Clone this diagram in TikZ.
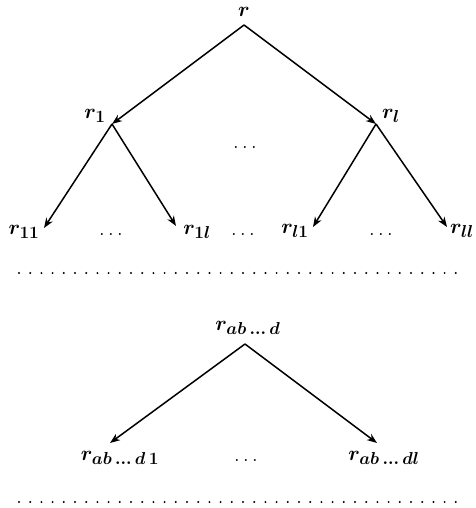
\documentclass[tikz,border=0pt]{standalone}
\usetikzlibrary{arrows.meta}
\DeclareMathSizes{22}{22}{17}{13}
\begin{document}
\begin{tikzpicture}[x=1pt,y=-1pt,
  lbl/.style={inner sep=0pt,font=\fontsize{22}{26}\selectfont\boldmath},
  gap/.style={inner sep=0pt,font=\fontsize{20}{24}\selectfont},
  edge/.style={line width=1.5pt,-{Stealth[length=10pt,width=7.5pt,inset=3pt]}},
  dotrow/.style={line width=2.2pt,line cap=round,dash pattern=on 0pt off 11.2pt}]
\useasboundingbox (0,0) rectangle (475,508);

% level 0
\node[lbl] (r) at (244,12) {$r$};
\coordinate (jr) at (244,25);

% level 1
\node[lbl] (r1) at (95,116) {$r_1$};
\coordinate (j1) at (112,124);
\node[gap] (dm1) at (245,147) {$\ldots$};
\node[lbl] (rl) at (391,116) {$r_l$};
\coordinate (jl) at (376,124);

% level 2
\node[lbl] (r11) at (24,232) {$r_{11}$};
\coordinate (t11) at (44,228);
\node[gap] (d1) at (111,234) {$\ldots$};
\node[lbl] (r1l) at (197,232) {$r_{1l}$};
\coordinate (t1l) at (176,226);
\node[gap] (d2) at (243,234) {$\ldots$};
\node[lbl] (rl1) at (295,231) {$r_{l1}$};
\coordinate (tl1) at (313,227);
\node[gap] (d3) at (381,234) {$\ldots$};
\node[lbl] (rll) at (462,231) {$r_{ll}$};
\coordinate (tll) at (447,227);

% separator
\coordinate (s1a) at (19,273);
\coordinate (s1b) at (456,273);
\draw[dotrow] (s1a) -- (s1b);

% generic subtree
\node[lbl] (rd) at (248,328) {$r_{ab\,\ldots\,d}$};
\coordinate (jd) at (245,344);
\node[lbl] (rd1) at (120,458) {$r_{ab\,\ldots\,d\,1}$};
\coordinate (td1) at (110,443);
\node[gap] (d4) at (246,460) {$\ldots$};
\node[lbl] (rdl) at (384,458) {$r_{ab\,\ldots\,dl}$};
\coordinate (tdl) at (377,443);

\coordinate (s2a) at (19,502);
\coordinate (s2b) at (456,502);
\draw[dotrow] (s2a) -- (s2b);

% connectors
\draw[edge] (jr) -- (j1);
\draw[edge] (jr) -- (jl);
\draw[edge] (j1) -- (t11);
\draw[edge] (j1) -- (t1l);
\draw[edge] (jl) -- (tl1);
\draw[edge] (jl) -- (tll);
\draw[edge] (jd) -- (td1);
\draw[edge] (jd) -- (tdl);
\end{tikzpicture}
\end{document}
